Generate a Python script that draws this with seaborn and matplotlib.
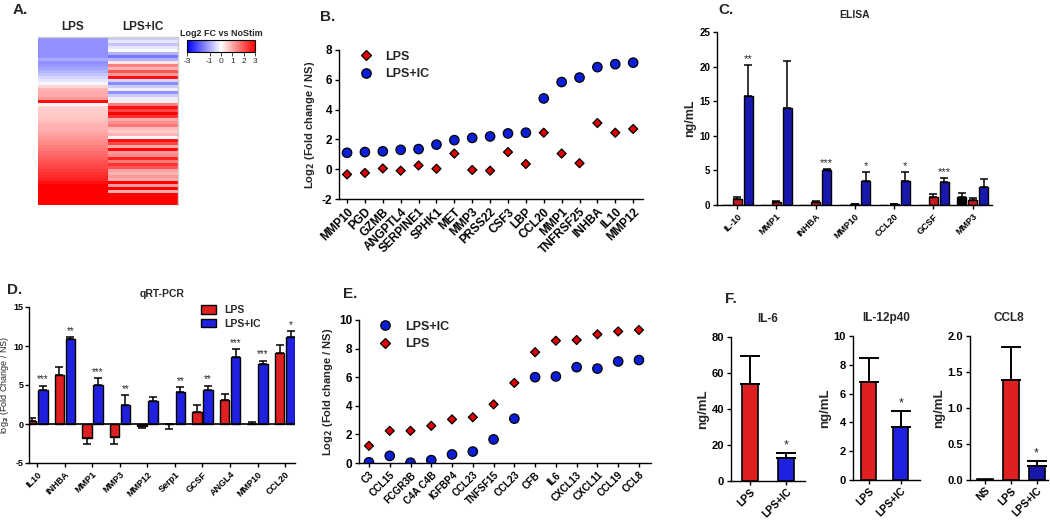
import numpy as np
import pandas as pd
import matplotlib
matplotlib.use('Agg')
from matplotlib import pyplot as plt
import seaborn as sns

# ---------------- data ----------------
# A. heatmap rows, top to bottom (log2 FC vs NoStim)
heat_lps = [-1.3, -1.3, -1.3, -1.3, -1.3, -1.3, -1.3, -1.0, -1.3, -1.2, -1.1, -0.9,
            -0.7, -0.5, -0.3, -0.1, 0.5, 0.9, 1.0, 1.0, 1.2, 2.8, 0.1, 0.5,
            0.6, 0.6, 0.7, 0.7, 0.8, 0.9, 0.9, 1.0, 1.1, 1.2, 1.3, 1.4,
            1.5, 1.6, 1.7, 1.8, 1.9, 2.0, 2.1, 2.2, 2.3, 2.4, 2.5, 2.6,
            2.8, 3.0, 3.0, 3.0, 3.0, 3.0, 3.0, 3.0]
heat_lpsic = [-0.6, -0.3, -0.7, -0.3, 0.0, -0.9, -1.6, -0.9, 0.3, 1.5, 0.9, 2.0,
              1.2, 2.8, -0.5, -1.4, -0.6, -0.2, -1.3, -0.6, -0.2, 0.2, 1.5, 2.8,
              2.2, 3.0, 2.4, 1.0, 1.3, 1.6, 0.8, 0.6, 0.9, 0.1, 2.8, 2.2,
              1.0, 2.9, 1.2, 1.4, 2.6, 1.6, 2.4, 2.0, 1.1, 0.9, 1.2, 1.0,
              3.0, 1.2, 3.0, 1.0, 3.0, 3.0, 3.0, 3.0]

# B. microarray fold changes
b_genes = ['MMP10', 'PGD', 'GZMB', 'ANGPTL4', 'SERPINE1', 'SPHK1', 'MET', 'MMP3',
           'PRSS22', 'CSF3', 'LBP', 'CCL20', 'MMP1', 'TNFRSF25', 'INHBA', 'IL10', 'MMP12']
b_lps = [-0.35, -0.25, 0.05, -0.1, 0.25, 0.03, 1.05, -0.05, -0.1, 1.15, 0.35,
         2.45, 1.05, 0.4, 3.1, 2.45, 2.7]
b_lpsic = [1.1, 1.15, 1.2, 1.3, 1.35, 1.65, 1.95, 2.1, 2.2, 2.4, 2.45,
           4.75, 5.85, 6.15, 6.85, 7.05, 7.15]

# C. ELISA (ng/mL)
elisa_cyto = ['IL-10', 'MMP1', 'INHBA', 'MMP10', 'CCL20', 'GCSF', 'MMP3']
elisa_ns = [0.02, 0.05, 0.0, 0.02, 0.02, 0.0, 1.2]
elisa_ns_err = [0, 0, 0, 0, 0, 0, 0.5]
elisa_lps = [0.9, 0.4, 0.4, 0.1, 0.1, 1.1, 0.7]
elisa_lps_err = [0.25, 0.2, 0.25, 0.05, 0.05, 0.5, 0.25]
elisa_ic = [15.8, 14.0, 5.0, 3.4, 3.4, 3.3, 2.6]
elisa_ic_err = [4.4, 6.8, 0.2, 1.3, 1.3, 0.6, 1.2]
elisa_stars = ['**', '', '***', '*', '*', '***', '']

# D. qRT-PCR
pcr_genes = ['IL10', 'INHBA', 'MMP1', 'MMP3', 'MMP12', 'Serp1', 'GCSF', 'ANGL4', 'MMP10', 'CCL20']
pcr_lps = [0.4, 6.3, -1.8, -1.7, -0.2, -0.05, 1.5, 3.1, 0.05, 9.15]
pcr_lps_err = [0.4, 1.0, 0.8, 0.9, 0.3, 0.65, 1.0, 0.7, 0.25, 0.95]
pcr_ic = [4.3, 10.9, 5.0, 2.5, 3.0, 4.05, 4.4, 8.6, 7.75, 11.1]
pcr_ic_err = [0.6, 0.2, 0.9, 1.2, 0.5, 0.65, 0.5, 1.0, 0.35, 0.8]
pcr_stars = ['***', '**', '***', '**', '', '**', '**', '***', '***', '*']

# E. microarray fold changes
e_genes = ['C3', 'CCL15', 'FCGR3B', 'C4A C4B', 'IGFBP4', 'CCL23', 'TNFSF15', 'CCL23',
           'CFB', 'IL6', 'CXCL13', 'CXCL11', 'CCL19', 'CCL8']
e_lps = [1.2, 2.25, 2.25, 2.6, 3.05, 3.2, 4.1, 5.6, 7.75, 8.55, 8.6, 9.0, 9.2, 9.3]
e_lpsic = [0.05, 0.5, 0.02, 0.2, 0.6, 0.8, 1.65, 3.1, 6.0, 6.05, 6.7, 6.6, 7.1, 7.2]

# F. ELISA single cytokines
il6_cond = ['LPS', 'LPS+IC']
il6_val = [54, 13]
il6_err = [15.5, 2.5]
il12_cond = ['LPS', 'LPS+IC']
il12_val = [6.8, 3.65]
il12_err = [1.7, 1.15]
ccl8_cond = ['NS', 'LPS', 'LPS+IC']
ccl8_val = [0.01, 1.39, 0.2]
ccl8_err = [0, 0.46, 0.07]

# ---------------- style ----------------
sns.set_style('ticks')
plt.rcParams['font.family'] = ['Liberation Sans', 'DejaVu Sans']
plt.rcParams['font.weight'] = 'bold'
plt.rcParams['axes.labelweight'] = 'bold'
plt.rcParams['axes.titleweight'] = 'bold'
plt.rcParams['axes.linewidth'] = 1.0
plt.rcParams['axes.edgecolor'] = 'black'
plt.rcParams['axes.unicode_minus'] = False

RED, BLUE = '#ff0000', '#0000ff'
DRED, DBLUE = '#e00000', '#0000c4'

fig = plt.figure(figsize=(10.5, 5.2), dpi=100)
W, H = 1050, 520


def box(l, t, r, b):
    return fig.add_axes([l / W, 1 - b / H, (r - l) / W, (b - t) / H])


def rot_labels(ax, size):
    ax.tick_params(axis='x', labelrotation=45, labelsize=size)
    for t in ax.get_xticklabels():
        t.set_ha('right')
        t.set_rotation_mode('anchor')


def style_axes(ax, ysize, xsize):
    sns.despine(ax=ax)
    ax.tick_params(length=3, width=1, pad=2, colors='black')
    ax.tick_params(axis='y', labelsize=ysize)
    rot_labels(ax, xsize)


def add_errors(ax, bars, vals_list, errs_list, cap, lw=1.1):
    for cont, vals, errs in zip(bars, vals_list, errs_list):
        for p, v, e in zip(cont.patches, vals, errs):
            if e == 0:
                continue
            x = p.get_x() + p.get_width() / 2
            yerr = [[e], [0]] if v < 0 else [[0], [e]]
            ax.errorbar([x], [v], yerr=yerr, fmt='none', ecolor='black',
                        elinewidth=lw, capsize=cap, capthick=lw, zorder=1)


def add_stars(ax, cont, vals, errs, stars, size):
    for p, v, e, s in zip(cont.patches, vals, errs, stars):
        if s:
            x = p.get_x() + p.get_width() / 2
            ax.annotate(s, (x, v + e), xytext=(0, 1), textcoords='offset points',
                        ha='center', va='bottom', fontsize=size, fontweight='normal')


def dot_panel(ax, genes, lps, lpsic, order, label_size, anchor):
    pos = np.arange(len(genes))
    df = pd.concat([pd.DataFrame({'pos': pos, 'val': lps, 'cond': 'LPS'}),
                    pd.DataFrame({'pos': pos, 'val': lpsic, 'cond': 'LPS+IC'})])
    sns.scatterplot(data=df, x='pos', y='val', hue='cond', style='cond', size='cond',
                    hue_order=order, style_order=order, size_order=order,
                    palette={'LPS': DRED, 'LPS+IC': '#0a1ed8'},
                    markers={'LPS': 'D', 'LPS+IC': 'o'},
                    sizes={'LPS': 21, 'LPS+IC': 46},
                    edgecolor='black', linewidth=0.9, ax=ax)
    ax.set_xticks(pos, genes)
    sns.move_legend(ax, 'upper left', bbox_to_anchor=anchor, frameon=False, title=None,
                    prop={'weight': 'bold', 'size': 9}, handletextpad=0.6,
                    labelspacing=0.45, borderaxespad=0)
    ax.set_xlabel('')
    ax.set_ylabel('Log$_2$ (Fold change / NS)', fontsize=8, labelpad=3)
    style_axes(ax, 8.5, label_size)


# ---------------- A ----------------
heat = pd.DataFrame({'LPS': heat_lps, 'LPS+IC': heat_lpsic})
ax_a = box(38, 37, 178, 205)
cax = box(187, 40, 255, 52)
sns.heatmap(heat, cmap='bwr', vmin=-3, vmax=3, ax=ax_a, cbar_ax=cax,
            cbar_kws={'orientation': 'horizontal', 'ticks': [-3, -1, 0, 1, 2, 3]},
            yticklabels=False)
ax_a.xaxis.tick_top()
ax_a.tick_params(axis='x', length=0, labelsize=8.5, pad=3, labelrotation=0)
for s in ['top', 'right']:
    ax_a.spines[s].set_visible(True)
    ax_a.spines[s].set_color('#cfcfcf')
cb = ax_a.collections[0].colorbar
cb.outline.set_linewidth(0.8)
cb.outline.set_edgecolor('black')
cax.tick_params(labelsize=6, length=3, width=0.6, pad=1.5)
for t in cax.get_xticklabels():
    t.set_fontweight('normal')
cax.set_title('Log2 FC vs NoStim', fontsize=6.5, fontweight='bold', pad=3)

# ---------------- B ----------------
ax_b = box(339, 50, 643, 199)
dot_panel(ax_b, b_genes, b_lps, b_lpsic, ['LPS', 'LPS+IC'], 8.5, (0.03, 1.03))
ax_b.set_ylim(-2, 8)
ax_b.set_yticks([-2, 0, 2, 4, 6, 8])
ax_b.set_xlim(-0.45, 16.55)

# ---------------- C ----------------
ax_c = box(717, 32, 992, 205)
elisa_df = pd.concat([
    pd.DataFrame({'cyto': elisa_cyto, 'val': elisa_ns, 'cond': 'NS'}),
    pd.DataFrame({'cyto': elisa_cyto, 'val': elisa_lps, 'cond': 'LPS'}),
    pd.DataFrame({'cyto': elisa_cyto, 'val': elisa_ic, 'cond': 'LPS+IC'})])
sns.barplot(data=elisa_df, x='cyto', y='val', hue='cond', hue_order=['NS', 'LPS', 'LPS+IC'],
            palette={'NS': 'black', 'LPS': DRED, 'LPS+IC': DBLUE},
            edgecolor='black', linewidth=1, width=0.84, gap=0.18,
            errorbar=None, legend=False, ax=ax_c)
c_bars = list(ax_c.containers)
add_errors(ax_c, c_bars, [elisa_ns, elisa_lps, elisa_ic],
           [elisa_ns_err, elisa_lps_err, elisa_ic_err], cap=3)
add_stars(ax_c, c_bars[-1], elisa_ic, elisa_ic_err, elisa_stars, 8)
ax_c.set_ylim(0, 25)
ax_c.set_yticks([0, 5, 10, 15, 20, 25])
ax_c.set_xlim(-0.51, 6.49)
ax_c.set_xlabel('')
ax_c.set_ylabel('ng/mL', fontsize=9, labelpad=2)
ax_c.set_title('ELISA', fontsize=7.5, pad=10)
style_axes(ax_c, 7, 6.5)

# ---------------- D ----------------
ax_d = box(29, 307, 295, 463)
pcr_df = pd.concat([
    pd.DataFrame({'gene': pcr_genes, 'val': pcr_lps, 'cond': 'LPS'}),
    pd.DataFrame({'gene': pcr_genes, 'val': pcr_ic, 'cond': 'LPS+IC'})])
sns.barplot(data=pcr_df, x='gene', y='val', hue='cond', hue_order=['LPS', 'LPS+IC'],
            palette={'LPS': RED, 'LPS+IC': BLUE},
            edgecolor='black', linewidth=1, width=0.8, gap=0.14,
            errorbar=None, ax=ax_d)
d_bars = list(ax_d.containers)
add_errors(ax_d, d_bars, [pcr_lps, pcr_ic], [pcr_lps_err, pcr_ic_err], cap=3)
add_stars(ax_d, d_bars[1], pcr_ic, pcr_ic_err, pcr_stars, 7)
ax_d.axhline(0, color='black', lw=1.2, zorder=3)
ax_d.set_ylim(-5, 15)
ax_d.set_yticks([-5, 0, 5, 10, 15])
ax_d.set_xlim(-0.3, 9.36)
ax_d.set_xlabel('')
ax_d.set_ylabel('log$_2$ (Fold Change / NS)', fontsize=6.5, fontweight='normal')
ax_d.yaxis.set_label_coords(-0.066, 0.5)
ax_d.set_title('qRT-PCR', fontsize=7.5, pad=7)
sns.move_legend(ax_d, 'upper left', bbox_to_anchor=(0.63, 1.04), frameon=False, title=None,
                prop={'weight': 'bold', 'size': 7.5}, handlelength=1.5, handleheight=0.9,
                labelspacing=0.35, borderaxespad=0)
style_axes(ax_d, 6.5, 6.5)
ax_d.tick_params(axis='y', pad=1)

# ---------------- E ----------------
ax_e = box(359, 320, 651, 463)
dot_panel(ax_e, e_genes, e_lps, e_lpsic, ['LPS+IC', 'LPS'], 7, (0.03, 1.03))
ax_e.set_ylim(0, 10)
ax_e.set_yticks([0, 2, 4, 6, 8, 10])
ax_e.set_xlim(-0.48, 13.58)

# ---------------- F ----------------
f_panels = [
    ((731, 337, 805, 481), 'IL-6', il6_cond, il6_val, il6_err, [RED, BLUE], 0.44,
     (-0.53, 1.53), (0, 80), [0, 20, 40, 60, 80]),
    ((853, 336, 920, 480), 'IL-12p40', il12_cond, il12_val, il12_err, [RED, BLUE], 0.47,
     (-0.5, 1.6), (0, 10), [0, 2, 4, 6, 8, 10]),
    ((970, 336, 1048, 480), 'CCL8', ccl8_cond, ccl8_val, ccl8_err, [RED, RED, DBLUE], 0.62,
     (-0.58, 2.44), (0, 2), [0.0, 0.5, 1.0, 1.5, 2.0]),
]
for rect, title, conds, vals, errs, cols, width, xl, yl, yt in f_panels:
    ax = box(*rect)
    sns.barplot(x=conds, y=vals, hue=conds, palette=cols, legend=False,
                edgecolor='black', linewidth=1.2, width=width, ax=ax)
    f_bars = list(ax.containers)
    add_errors(ax, f_bars, [[v] for v in vals], [[e] for e in errs], cap=7, lw=1.4)
    # significance star on the LPS+IC bar
    add_stars(ax, f_bars[-1], [vals[-1]], [errs[-1]], ['*'], 9)
    ax.set_ylim(*yl)
    ax.set_yticks(yt)
    if title == 'CCL8':
        ax.set_yticklabels([f'{t:.1f}' for t in yt])
    ax.set_xlim(*xl)
    ax.set_ylabel('ng/mL', fontsize=9.5, labelpad=2)
    ax.set_title(title, fontsize=8.5, pad=11)
    style_axes(ax, 8, 7.5)
    ax.tick_params(axis='x', pad=1)

# panel letters
for letter, x, y in [('A.', 13, 3), ('B.', 320, 10), ('C.', 718, 3),
                     ('D.', 7, 283), ('E.', 343, 287), ('F.', 725, 292)]:
    fig.text(x / W, 1 - y / H, letter, fontsize=11, fontweight='bold', va='top', ha='left')

fig.savefig('out.png', dpi=100)
